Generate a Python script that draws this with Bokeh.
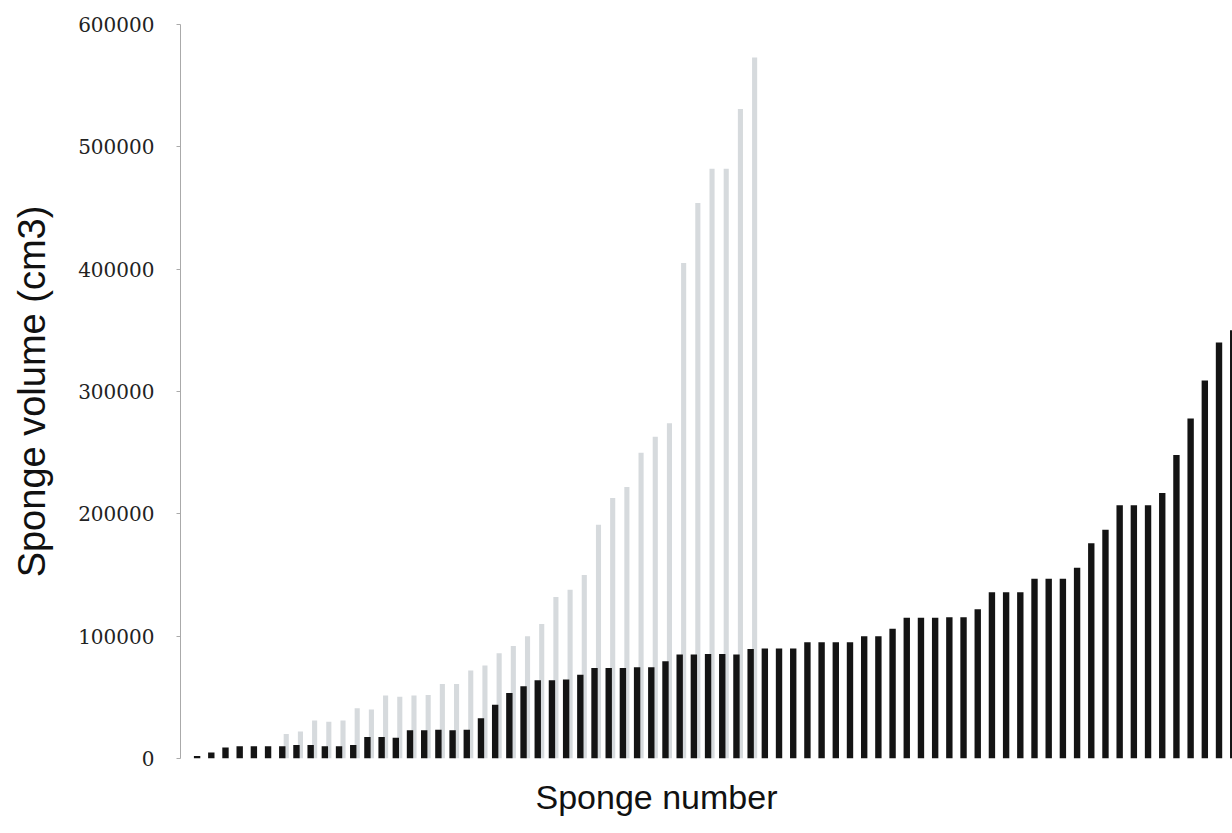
from bokeh.plotting import figure
from bokeh.models import Range1d, ColumnDataSource, BasicTickFormatter, FixedTicker, Title
from bokeh.embed import file_html
from bokeh.resources import INLINE

# Sponge number 1..74, black series (sorted volumes, cm3)
black_volume = [2000, 5000, 9000, 10000, 10000, 10000, 10000, 11000, 11000, 10000,
                10000, 11000, 17500, 17500, 17000, 23000, 23000, 23500, 23000, 23500,
                33000, 44000, 53500, 59000, 64000, 64000, 64500, 68500, 74000, 74000,
                74000, 74500, 74500, 79500, 85000, 85000, 85500, 85500, 85000, 89500,
                90000, 90000, 90000, 95000, 95000, 95000, 95000, 100000, 100000, 106000,
                115000, 115000, 115000, 115500, 115500, 122000, 136000, 136000, 136000, 147000,
                147000, 147000, 156000, 176000, 187000, 207000, 207000, 207000, 217000, 248000,
                278000, 309000, 340000, 350000]
black_number = list(range(1, len(black_volume) + 1))

# Grey series (sponges 7..40)
grey_volume = [20000, 22000, 31000, 30000, 31000, 41000, 40000, 51500, 50500, 51500,
               52000, 61000, 61000, 72000, 76000, 86000, 92000, 100000, 110000, 132000,
               138000, 150000, 191000, 213000, 222000, 250000, 263000, 274000, 405000, 454000,
               482000, 482000, 531000, 573000]
grey_number = list(range(7, 7 + len(grey_volume)))

y_ticks = [0, 100000, 200000, 300000, 400000, 500000, 600000]

black_src = ColumnDataSource(dict(x=black_number, top=black_volume))
grey_src = ColumnDataSource(dict(x=[n + 0.28 for n in grey_number], top=grey_volume))

p = figure(width=1232, height=833,
           x_range=Range1d(-0.17, 73.95), y_range=Range1d(0, 600000),
           output_backend="svg", toolbar_location=None,
           min_border_left=180, min_border_right=0,
           min_border_top=24, min_border_bottom=75)

p.vbar(x="x", top="top", bottom=0, width=0.36, source=grey_src,
       fill_color="#d6dadd", line_color=None)
p.vbar(x="x", top="top", bottom=0, width=0.45, source=black_src,
       fill_color="#141414", line_color=None)

p.xgrid.visible = False
p.ygrid.visible = False
p.outline_line_color = None
p.background_fill_color = "white"
p.border_fill_color = "white"

p.xaxis.visible = False

yax = p.yaxis[0]
yax.ticker = FixedTicker(ticks=y_ticks)
yax.formatter = BasicTickFormatter(use_scientific=False)
yax.axis_label = "Sponge volume (cm3)"
yax.axis_label_text_font = "Liberation Sans"
yax.axis_label_text_font_size = "38px"
yax.axis_label_text_font_style = "normal"
yax.axis_label_text_color = "#111111"
yax.axis_label_standoff = 22
yax.major_label_text_font = "DejaVu Serif"
yax.major_label_text_font_size = "20px"
yax.major_label_text_color = "#222222"
yax.major_label_standoff = 22
yax.axis_line_color = "#aaaaaa"
yax.major_tick_line_color = "#aaaaaa"
yax.major_tick_out = 4
yax.major_tick_in = 0
yax.minor_tick_line_color = None

p.add_layout(Title(text="Sponge number", align="left", offset=355,
                   text_font="Liberation Sans", text_font_size="34px",
                   text_font_style="normal", text_color="#111111",
                   standoff=34), "below")

open("out.html", "w").write(file_html(p, INLINE))
